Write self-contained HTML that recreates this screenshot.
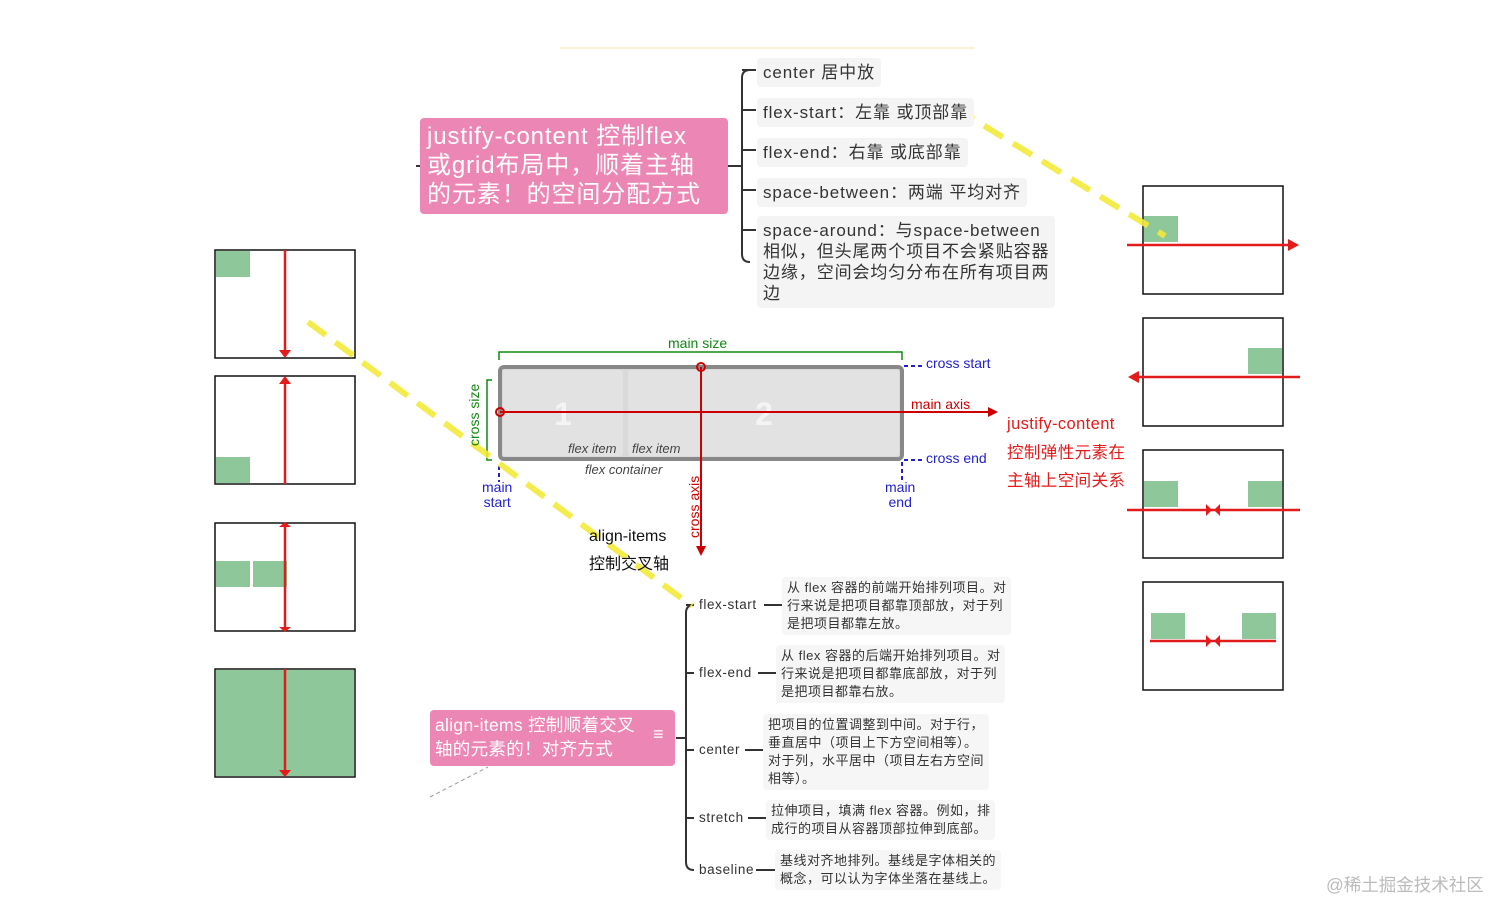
<!DOCTYPE html>
<html><head><meta charset="utf-8">
<style>
body{margin:0;width:1512px;height:918px;background:#fff;position:relative;overflow:hidden;font-family:"Liberation Sans","Noto Sans CJK SC",sans-serif;}
.a{position:absolute;white-space:nowrap;}
.pill{position:absolute;background:#f4f4f4;border-radius:4px;color:#333;font-size:17px;padding:4px 6px;line-height:21px;letter-spacing:0.9px;white-space:nowrap;}
.sm{position:absolute;background:#f6f6f6;border-radius:4px;color:#333;font-size:13px;line-height:18px;padding:2px 5px;white-space:nowrap;letter-spacing:0.5px;}
.lbl{position:absolute;color:#333;font-size:13.5px;letter-spacing:0.6px;}
svg{position:absolute;left:0;top:0;}
</style></head><body>
<svg width="1512" height="918">
<line x1="560" y1="48" x2="975" y2="48" stroke="#fbf3d0" stroke-width="2"/>
<path d="M728 166 H742 M750 70 Q742 70 742 78 V254 Q742 262 750 262 M742 110 H756 M742 150 H756 M742 190 H756 M742 230 H756 M742 70 H756" stroke="#333" stroke-width="2" fill="none"/>
<line x1="416" y1="166" x2="420" y2="166" stroke="#333" stroke-width="2"/>
<path d="M676 738 H686 M694 605 Q686 605 686 613 V862 Q686 870 694 870 M686 673 H694 M686 750 H694 M686 818 H694 M686 605 H694" stroke="#333" stroke-width="2" fill="none"/>
<path d="M764 605 H783 M758 673 H777 M745 750 H764 M748 818 H767 M756 870 H775" stroke="#333" stroke-width="2"/>
<line x1="430" y1="797" x2="488" y2="767" stroke="#999" stroke-width="1" stroke-dasharray="4 3"/>
<g fill="none" stroke="#111" stroke-width="1.5">
<rect x="215" y="250" width="140" height="108"/><rect x="215" y="376" width="140" height="108"/>
<rect x="215" y="523" width="140" height="108"/><rect x="215" y="669" width="140" height="108"/>
<rect x="1143" y="186" width="140" height="108"/><rect x="1143" y="318" width="140" height="108"/>
<rect x="1143" y="450" width="140" height="108"/><rect x="1143" y="582" width="140" height="108"/>
</g>
<g fill="#8ec89a">
<rect x="216" y="251" width="34" height="26"/><rect x="216" y="457" width="34" height="26"/>
<rect x="216" y="561" width="34" height="26"/><rect x="253" y="561" width="34" height="26"/>
<rect x="216" y="670" width="138" height="106"/>
<rect x="1144" y="216" width="34" height="26"/><rect x="1248" y="348" width="34" height="26"/>
<rect x="1144" y="481" width="34" height="26"/><rect x="1248" y="481" width="34" height="26"/>
<rect x="1151" y="613" width="34" height="26"/><rect x="1242" y="613" width="34" height="26"/>
</g>
<g stroke="#e31b1b" stroke-width="2.5" fill="#e31b1b">
<line x1="285" y1="250" x2="285" y2="352"/><polygon points="279,350 291,350 285,358" stroke="none"/>
<line x1="285" y1="382" x2="285" y2="484"/><polygon points="279,384 291,384 285,376" stroke="none"/>
<line x1="285" y1="525" x2="285" y2="629"/><polygon points="279,527 291,527 285,522" stroke="none"/><polygon points="279,627 291,627 285,632" stroke="none"/>
<line x1="285" y1="669" x2="285" y2="771"/><polygon points="279,770 291,770 285,777" stroke="none"/>
<line x1="1127" y1="245" x2="1290" y2="245"/><polygon points="1288,239 1288,251 1299,245" stroke="none"/>
<line x1="1138" y1="377" x2="1300" y2="377"/><polygon points="1139,371 1139,383 1128,377" stroke="none"/>
<line x1="1127" y1="510" x2="1300" y2="510"/><polygon points="1206,504 1206,516 1212,510" stroke="none"/><polygon points="1220,504 1220,516 1214,510" stroke="none"/>
<line x1="1150" y1="641" x2="1276" y2="641"/><polygon points="1206,635 1206,647 1212,641" stroke="none"/><polygon points="1220,635 1220,647 1214,641" stroke="none"/>
</g>
<rect x="500" y="367" width="402" height="92" rx="4" fill="#d9d9d9" stroke="#888" stroke-width="4"/>
<rect x="503" y="370" width="120" height="86" rx="3" fill="#e2e2e2"/>
<rect x="628" y="370" width="271" height="86" rx="3" fill="#e2e2e2"/>
<text x="563" y="425" font-size="32" font-weight="bold" fill="#f4f4f4" text-anchor="middle" font-family="Liberation Sans">1</text>
<text x="764" y="425" font-size="32" font-weight="bold" fill="#f4f4f4" text-anchor="middle" font-family="Liberation Sans">2</text>
<path d="M499 360 V352 H902 V360" stroke="#118811" fill="none" stroke-width="1.5"/>
<path d="M492 380 H487 V460 H492" stroke="#118811" fill="none" stroke-width="1.5"/>
<g stroke="#2222cc" stroke-width="2" stroke-dasharray="4 3">
<line x1="904" y1="366" x2="922" y2="366"/><line x1="904" y1="460" x2="922" y2="460"/>
<line x1="499" y1="466" x2="499" y2="482"/><line x1="902" y1="462" x2="902" y2="482"/>
</g>
<g stroke="#c00" stroke-width="2" fill="#c00">
<line x1="500" y1="412" x2="990" y2="412"/><polygon points="988,407 988,417 998,412" stroke="none"/>
<line x1="701" y1="367" x2="701" y2="548"/><polygon points="696,546 706,546 701,556" stroke="none"/>
<circle cx="500" cy="412" r="4" fill="none"/><circle cx="701" cy="367" r="4" fill="none"/>
</g>
<g stroke="#f3ea3a" stroke-width="6" stroke-dasharray="22 12" opacity="0.9">
<line x1="308" y1="322" x2="692" y2="606"/>
<line x1="955" y1="108" x2="1165" y2="236"/>
</g>
</svg>
<div class="a" style="left:420px;top:118px;width:308px;height:96px;background:#ec87b5;border-radius:4px;"></div>
<div class="a" style="left:427px;top:122px;color:#fff;font-size:24px;line-height:29px;letter-spacing:0.9px;">justify-content 控制flex<br>或grid布局中，顺着主轴<br>的元素！的空间分配方式</div>
<div class="pill" style="left:757px;top:58px;">center 居中放</div>
<div class="pill" style="left:757px;top:98px;">flex-start：左靠 或顶部靠</div>
<div class="pill" style="left:757px;top:138px;">flex-end：右靠 或底部靠</div>
<div class="pill" style="left:757px;top:178px;">space-between：两端 平均对齐</div>
<div class="pill" style="left:757px;top:216px;">space-around：与space-between<br>相似，但头尾两个项目不会紧贴容器<br>边缘，空间会均匀分布在所有项目两<br>边</div>
<div class="a" style="left:668px;top:335px;color:#118811;font-size:14px;">main size</div>
<div class="a" style="left:466px;top:446px;color:#118811;font-size:14px;transform:rotate(-90deg);transform-origin:0 0;">cross size</div>
<div class="a" style="left:926px;top:355px;color:#2222cc;font-size:14px;">cross start</div>
<div class="a" style="left:926px;top:450px;color:#2222cc;font-size:14px;">cross end</div>
<div class="a" style="left:482px;top:480px;color:#2222cc;font-size:14px;line-height:15px;text-align:center;">main<br>start</div>
<div class="a" style="left:885px;top:480px;color:#2222cc;font-size:14px;line-height:15px;text-align:center;">main<br>end</div>
<div class="a" style="left:911px;top:396px;color:#c00;font-size:14px;">main axis</div>
<div class="a" style="left:686px;top:538px;color:#c00;font-size:14px;transform:rotate(-90deg);transform-origin:0 0;">cross axis</div>
<div class="a" style="left:568px;top:441px;color:#444;font-size:13px;font-style:italic;">flex item</div>
<div class="a" style="left:632px;top:441px;color:#444;font-size:13px;font-style:italic;">flex item</div>
<div class="a" style="left:585px;top:462px;color:#444;font-size:13px;font-style:italic;">flex container</div>
<div class="a" style="left:1007px;top:410px;color:#e31b1b;font-size:16.5px;line-height:28.5px;letter-spacing:0.4px;">justify-content<br>控制弹性元素在<br>主轴上空间关系</div>
<div class="a" style="left:589px;top:523px;color:#111;font-size:16px;line-height:28px;">align-items<br>控制交叉轴</div>
<div class="a" style="left:430px;top:710px;width:245px;height:56px;background:#ec87b5;border-radius:4px;"></div>
<div class="a" style="left:435px;top:713px;color:#fff;font-size:17.5px;line-height:24px;letter-spacing:0.3px;">align-items 控制顺着交叉<br>轴的元素的！对齐方式</div>
<div class="a" style="left:653px;top:724px;color:#fff;font-size:18px;">≡</div>
<div class="lbl" style="left:699px;top:597px;">flex-start</div>
<div class="lbl" style="left:699px;top:665px;">flex-end</div>
<div class="lbl" style="left:699px;top:742px;">center</div>
<div class="lbl" style="left:699px;top:810px;">stretch</div>
<div class="lbl" style="left:699px;top:862px;">baseline</div>
<div class="sm" style="left:782px;top:577px;">从 flex 容器的前端开始排列项目。对<br>行来说是把项目都靠顶部放，对于列<br>是把项目都靠左放。</div>
<div class="sm" style="left:776px;top:645px;">从 flex 容器的后端开始排列项目。对<br>行来说是把项目都靠底部放，对于列<br>是把项目都靠右放。</div>
<div class="sm" style="left:763px;top:714px;">把项目的位置调整到中间。对于行，<br>垂直居中（项目上下方空间相等）。<br>对于列，水平居中（项目左右方空间<br>相等）。</div>
<div class="sm" style="left:766px;top:800px;">拉伸项目，填满 flex 容器。例如，排<br>成行的项目从容器顶部拉伸到底部。</div>
<div class="sm" style="left:775px;top:850px;">基线对齐地排列。基线是字体相关的<br>概念，可以认为字体坐落在基线上。</div>
<div class="a" style="left:1326px;top:872px;color:#bbb;font-size:17.5px;">@稀土掘金技术社区</div>
</body></html>
